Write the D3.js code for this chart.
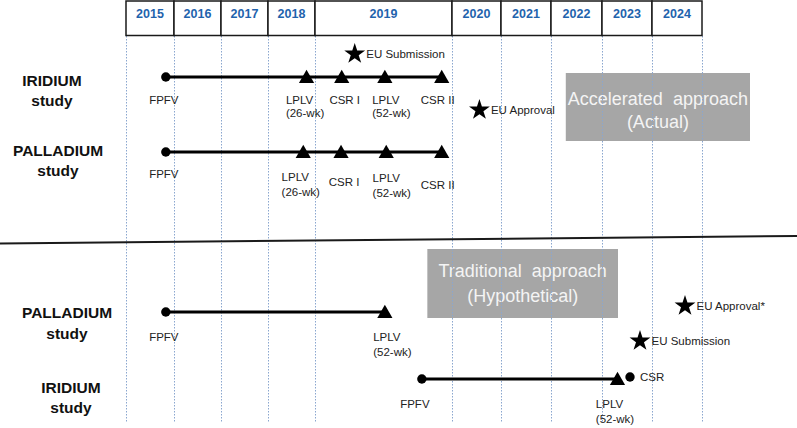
<!DOCTYPE html>
<html><head><meta charset="utf-8">
<script src="https://cdn.jsdelivr.net/npm/d3@7"></script>
<style>
html,body{margin:0;padding:0;background:#fff;}
svg{display:block;font-family:"Liberation Sans",Arial,sans-serif;}
</style></head>
<body><svg id="c" width="797" height="428"></svg>
<script>
// ---------------- DATA ----------------
const years = [2015, 2016, 2017, 2018, 2019, 2020, 2021, 2022, 2023, 2024];

const studyLabels = [
  {lane: "iridiumA", name: "IRIDIUM"},
  {lane: "palladiumA", name: "PALLADIUM"},
  {lane: "palladiumT", name: "PALLADIUM"},
  {lane: "iridiumT", name: "IRIDIUM"}
];

const studySpans = [
  {lane: "iridiumA", start: 2015.83, end: 2019.925},
  {lane: "palladiumA", start: 2015.83, end: 2019.925},
  {lane: "palladiumT", start: 2015.83, end: 2019.51},
  {lane: "iridiumT", start: 2019.78, end: 2023.31}
];

const milestones = [
  {lane: "iridiumA", year: 2015.83, shape: "circle", label: ["FPFV"]},
  {lane: "iridiumA", year: 2018.82, shape: "triangle", label: ["LPLV", "(26-wk)"]},
  {lane: "iridiumA", year: 2019.195, shape: "triangle", label: ["CSR I"]},
  {lane: "iridiumA", year: 2019.51, shape: "triangle", label: ["LPLV", "(52-wk)"]},
  {lane: "iridiumA", year: 2019.925, shape: "triangle", label: ["CSR II"]},
  {lane: "palladiumA", year: 2015.83, shape: "circle", label: ["FPFV"]},
  {lane: "palladiumA", year: 2018.75, shape: "triangle", label: ["LPLV", "(26-wk)"]},
  {lane: "palladiumA", year: 2019.19, shape: "triangle", label: ["CSR I"]},
  {lane: "palladiumA", year: 2019.52, shape: "triangle", label: ["LPLV", "(52-wk)"]},
  {lane: "palladiumA", year: 2019.925, shape: "triangle", label: ["CSR II"]},
  {lane: "palladiumT", year: 2015.83, shape: "circle", label: ["FPFV"]},
  {lane: "palladiumT", year: 2019.51, shape: "triangle", label: ["LPLV", "(52-wk)"]},
  {lane: "iridiumT", year: 2019.78, shape: "circle", label: ["FPFV"]},
  {lane: "iridiumT", year: 2023.31, shape: "triangle", label: ["LPLV", "(52-wk)"]}
];

const sideMarks = [
  {lane: "csrT", year: 2023.56, label: "CSR"}
];

const regulatory = [
  {lane: "submitA", year: 2019.29, label: "EU Submission"},
  {lane: "approveA", year: 2020.56, label: "EU Approval"},
  {lane: "approveT", year: 2024.66, label: "EU Approval*"},
  {lane: "submitT", year: 2023.76, label: "EU Submission"}
];

const approaches = [
  {from: 2022.29, to: 2025.96, band: "accel", lines: ["Accelerated approach", "(Actual)"]},
  {from: 2019.82, to: 2023.32, band: "trad", lines: ["Traditional approach", "(Hypothetical)"]}
];

// ---------------- LAYOUT ----------------
const W = 797, H = 428;
const colEdges = [126, 174, 221, 268, 315, 452, 501, 551, 602, 652, 702];
const laneY = {
  submitA: 53, iridiumA: 77, approveA: 109, palladiumA: 152,
  approveT: 305, palladiumT: 312, submitT: 340, csrT: 377, iridiumT: 379
};
const studyLabelPos = {
  iridiumA: {cx: 52, y1: 80, y2: 100},
  palladiumA: {cx: 58, y1: 150, y2: 170},
  palladiumT: {cx: 67, y1: 312, y2: 333},
  iridiumT: {cx: 71, y1: 387, y2: 407}
};
// label nudges (dx of first-line centre, dy of first line, dy of second line)
const labelNudge = [
  [-2, 22.5, 36], [-7, 22.5, 36], [3, 22.5, 36], [1, 22.5, 36], [-4, 22.5, 36],
  [-2, 22, 40], [-8, 25, 40], [3, 30, 40], [0, 26, 41], [-4, 33, 40],
  [-2, 25, 40], [2, 25, 40],
  [-7, 25, 40], [-8, 25, 40]
];
const bandY = {accel: [73, 141, 99, 122], trad: [249, 318, 271, 296]};

const x = d3.scaleLinear().domain(d3.range(2015, 2026)).range(colEdges);

const svg = d3.select("#c");

// approach boxes (behind grid lines)
approaches.forEach(a => {
  const [y0, y1, t1, t2] = bandY[a.band];
  svg.append("rect")
    .attr("x", x(a.from)).attr("y", y0)
    .attr("width", x(a.to) - x(a.from)).attr("height", y1 - y0)
    .attr("fill", "#a6a6a6");
  const cx = (x(a.from) + x(a.to)) / 2;
  [t1, t2].forEach((ty, i) => {
    svg.append("text").attr("x", cx).attr("y", ty)
      .attr("text-anchor", "middle").attr("dominant-baseline", "central")
      .attr("font-size", 18).attr("fill", "#f4f4f4")
      .attr("word-spacing", i === 0 ? 5 : 0)
      .text(a.lines[i]);
  });
});

// dotted grid lines
svg.append("g").selectAll("line").data(d3.range(2015, 2026)).join("line")
  .attr("x1", d => x(d) + 0.5).attr("x2", d => x(d) + 0.5)
  .attr("y1", 36).attr("y2", 422)
  .attr("stroke", "#8aa6cf").attr("stroke-width", 1)
  .attr("stroke-dasharray", "1.5,1.5");

// header
const hdr = svg.append("g");
hdr.selectAll("rect").data(years).join("rect")
  .attr("x", d => x(d)).attr("y", 1)
  .attr("width", d => x(d + 1) - x(d)).attr("height", 34.5)
  .attr("fill", "#fff").attr("stroke", "#1a1a1a").attr("stroke-width", 1.5);
hdr.selectAll("text").data(years).join("text")
  .attr("x", d => (x(d) + x(d + 1)) / 2).attr("y", 13.5)
  .attr("text-anchor", "middle").attr("dominant-baseline", "central")
  .attr("font-size", 12.5).attr("font-weight", "bold").attr("fill", "#1f63ad")
  .text(d => d);

// divider
svg.append("line").attr("x1", 0).attr("y1", 243.5).attr("x2", W).attr("y2", 236)
  .attr("stroke", "#1a1a1a").attr("stroke-width", 2);

// study labels
studyLabels.forEach(s => {
  const p = studyLabelPos[s.lane];
  [[s.name, p.y1], ["study", p.y2]].forEach(([t, ty]) => {
    svg.append("text").attr("x", p.cx).attr("y", ty)
      .attr("text-anchor", "middle").attr("dominant-baseline", "central")
      .attr("font-size", 15.5).attr("font-weight", "bold").attr("fill", "#111")
      .text(t);
  });
});

// study spans
svg.append("g").selectAll("line").data(studySpans).join("line")
  .attr("x1", d => x(d.start)).attr("x2", d => x(d.end))
  .attr("y1", d => laneY[d.lane]).attr("y2", d => laneY[d.lane])
  .attr("stroke", "#000").attr("stroke-width", 3);

// milestones
const tri = d3.symbol().type(d3.symbolTriangle).size(100);
milestones.forEach((m, i) => {
  const mx = x(m.year), my = laneY[m.lane];
  if (m.shape === "circle") {
    svg.append("circle").attr("cx", mx).attr("cy", my).attr("r", 4.7).attr("fill", "#000");
  } else {
    svg.append("path").attr("d", tri).attr("transform", `translate(${mx},${my + 1.5})`).attr("fill", "#000");
  }
  const [dx, dy1, dy2] = labelNudge[i];
  const t1 = svg.append("text").attr("x", mx + dx).attr("y", my + dy1)
    .attr("text-anchor", "middle").attr("dominant-baseline", "central")
    .attr("font-size", 11.5).attr("fill", "#222").text(m.label[0]);
  if (m.label.length > 1) {
    const left = mx + dx - t1.node().getComputedTextLength() / 2;
    svg.append("text").attr("x", left).attr("y", my + dy2)
      .attr("text-anchor", "start").attr("dominant-baseline", "central")
      .attr("font-size", 11.5).attr("fill", "#222").text(m.label[1]);
  }
});

// side marks (CSR dot)
sideMarks.forEach(s => {
  svg.append("circle").attr("cx", x(s.year)).attr("cy", laneY[s.lane]).attr("r", 4.7).attr("fill", "#000");
  svg.append("text").attr("x", x(s.year) + 10).attr("y", laneY[s.lane])
    .attr("dominant-baseline", "central").attr("font-size", 11.5).attr("fill", "#222").text(s.label);
});

// regulatory stars
const star = d3.symbol().type(d3.symbolStar).size(135);
regulatory.forEach(r => {
  const rx = x(r.year), ry = laneY[r.lane];
  svg.append("path").attr("d", star).attr("transform", `translate(${rx},${ry + 1})`).attr("fill", "#000");
  svg.append("text").attr("x", rx + 11.5).attr("y", ry + 0.5)
    .attr("dominant-baseline", "central").attr("font-size", 11.5).attr("fill", "#222").text(r.label);
});
</script></body></html>
